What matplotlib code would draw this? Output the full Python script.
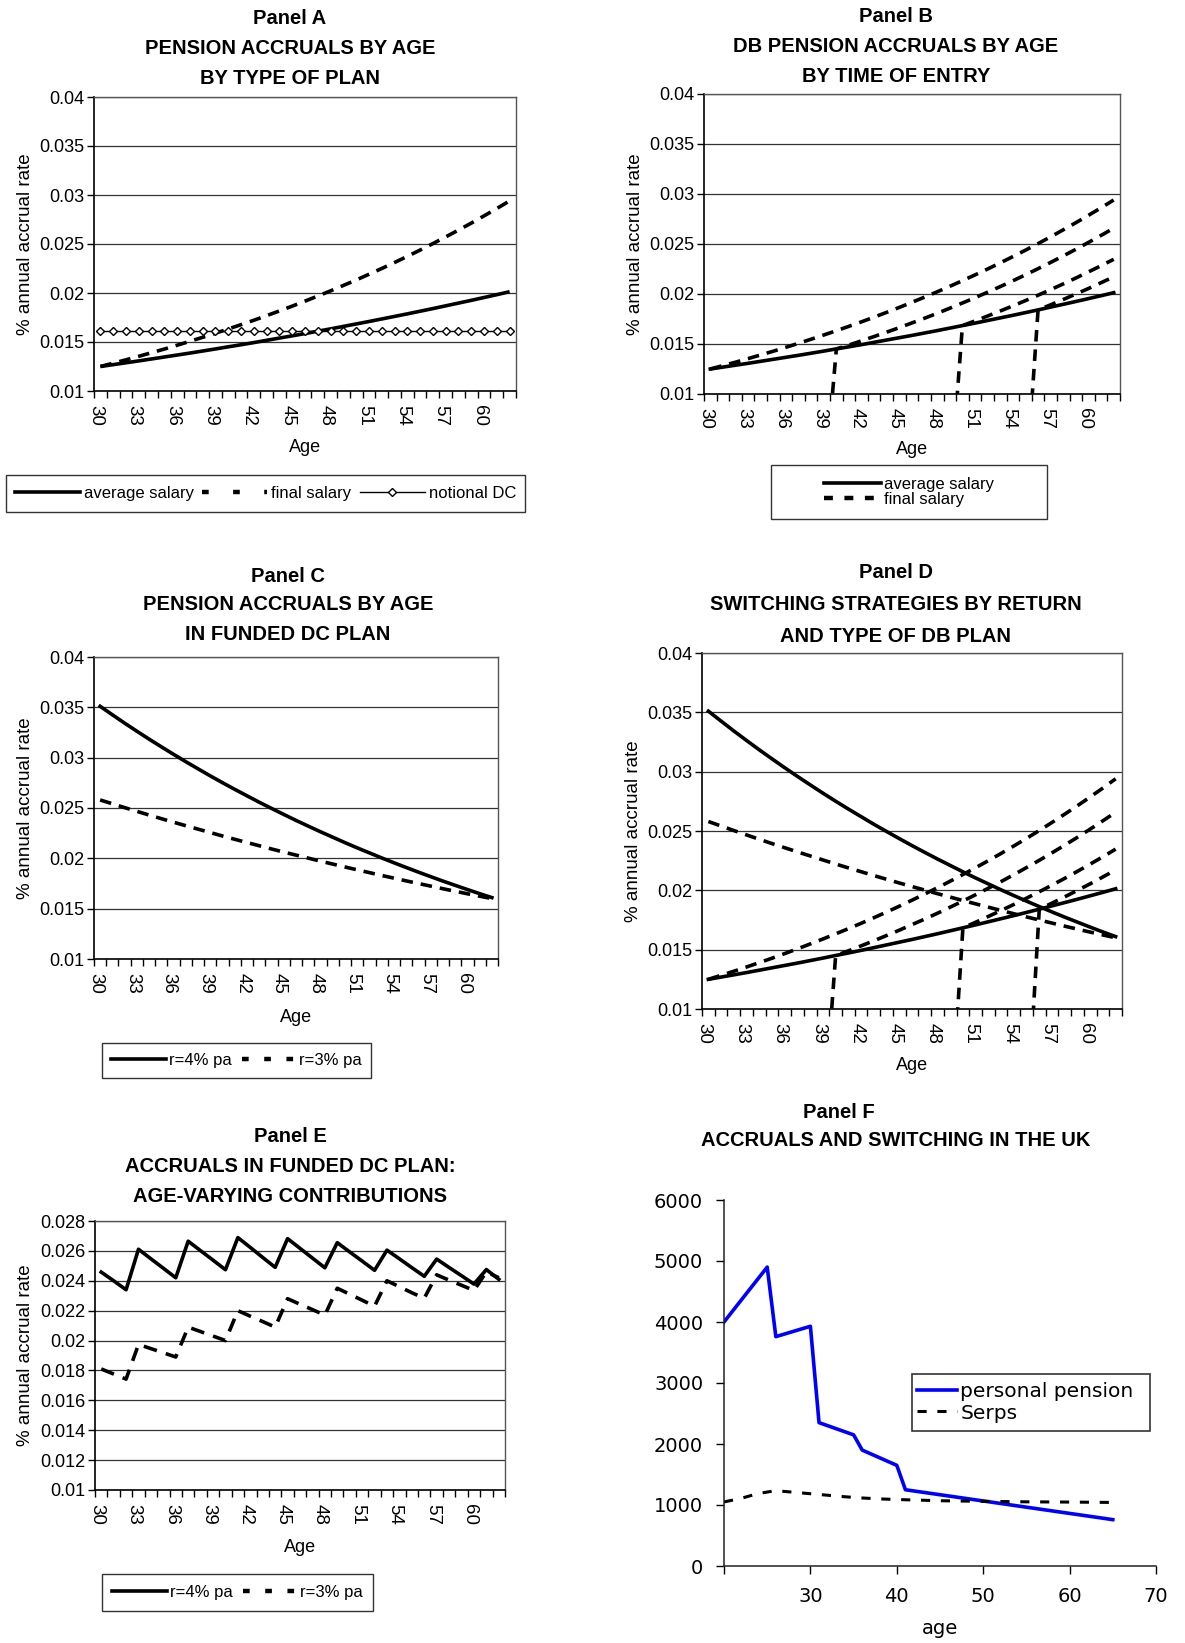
import matplotlib
matplotlib.use("Agg")
import matplotlib.pyplot as plt
from matplotlib import font_manager
from matplotlib.lines import Line2D
from matplotlib.patches import Rectangle

W, H = 1185, 1643
avail = {f.name for f in font_manager.fontManager.ttflist}
SANS = "Liberation Sans" if "Liberation Sans" in avail else "DejaVu Sans"
HAS_NARROW = "Liberation Sans Narrow" in avail
NARROW = "Liberation Sans Narrow" if HAS_NARROW else SANS
LEG_SIZE = 14.5 if HAS_NARROW else 12
plt.rcParams["font.family"] = [SANS, "DejaVu Sans"]

# ---------------- data ----------------
ages = list(range(30, 63))
xtick_ages = [30, 33, 36, 39, 42, 45, 48, 51, 54, 57, 60]
xtick_labels = ["30", "33", "36", "39", "42", "45", "48", "51", "54", "57", "60"]

rate_ticks = [0.01, 0.015, 0.02, 0.025, 0.03, 0.035, 0.04]
rate_tick_labels = ["0.01", "0.015", "0.02", "0.025", "0.03", "0.035", "0.04"]
rate_ticks_e = [0.01, 0.012, 0.014, 0.016, 0.018, 0.02, 0.022, 0.024, 0.026, 0.028]
rate_tick_labels_e = ["0.01", "0.012", "0.014", "0.016", "0.018", "0.02",
                      "0.022", "0.024", "0.026", "0.028"]

avg_salary = [0.01250, 0.01269, 0.01288, 0.01307, 0.01327, 0.01347, 0.01367,
              0.01387, 0.01408, 0.01429, 0.01451, 0.01472, 0.01494, 0.01517,
              0.01540, 0.01563, 0.01586, 0.01610, 0.01634, 0.01659, 0.01684,
              0.01709, 0.01735, 0.01761, 0.01787, 0.01814, 0.01841, 0.01869,
              0.01897, 0.01925, 0.01954, 0.01983, 0.02013]
final_salary = [0.01250, 0.01284, 0.01318, 0.01354, 0.01391, 0.01428, 0.01467,
                0.01507, 0.01548, 0.01590, 0.01633, 0.01677, 0.01722, 0.01769,
                0.01817, 0.01866, 0.01917, 0.01969, 0.02022, 0.02077, 0.02133,
                0.02191, 0.02250, 0.02311, 0.02374, 0.02438, 0.02504, 0.02572,
                0.02642, 0.02713, 0.02787, 0.02862, 0.02940]
notional_dc = [0.0161] * len(ages)

final_entry40 = [0, 0, 0, 0, 0, 0, 0, 0, 0, 0,
                 0.01450, 0.01490, 0.01532, 0.01575, 0.01619, 0.01664, 0.01711,
                 0.01758, 0.01807, 0.01858, 0.01910, 0.01963, 0.02018, 0.02074,
                 0.02132, 0.02192, 0.02253, 0.02316, 0.02381, 0.02447, 0.02516,
                 0.02586, 0.02658]
final_entry50 = [0, 0, 0, 0, 0, 0, 0, 0, 0, 0,
                 0, 0, 0, 0, 0, 0, 0, 0, 0, 0,
                 0.01684, 0.01731, 0.01780, 0.01830, 0.01881, 0.01934, 0.01988,
                 0.02044, 0.02101, 0.02160, 0.02221, 0.02283, 0.02347]
final_entry56 = [0, 0, 0, 0, 0, 0, 0, 0, 0, 0,
                 0, 0, 0, 0, 0, 0, 0, 0, 0, 0,
                 0, 0, 0, 0, 0, 0,
                 0.01841, 0.01892, 0.01945, 0.02000, 0.02055, 0.02113, 0.02172]

dc_r4 = [0.03510, 0.03426, 0.03343, 0.03263, 0.03184, 0.03108, 0.03033,
         0.02960, 0.02889, 0.02819, 0.02751, 0.02685, 0.02621, 0.02557,
         0.02496, 0.02436, 0.02377, 0.02320, 0.02264, 0.02210, 0.02156,
         0.02104, 0.02054, 0.02004, 0.01956, 0.01909, 0.01863, 0.01818,
         0.01774, 0.01732, 0.01690, 0.01649, 0.01610]
dc_r3 = [0.02580, 0.02542, 0.02504, 0.02467, 0.02430, 0.02394, 0.02359,
         0.02324, 0.02290, 0.02256, 0.02222, 0.02189, 0.02157, 0.02125,
         0.02093, 0.02062, 0.02032, 0.02002, 0.01972, 0.01943, 0.01914,
         0.01886, 0.01858, 0.01830, 0.01803, 0.01776, 0.01750, 0.01724,
         0.01698, 0.01673, 0.01648, 0.01624, 0.01600]

agevar_r4 = [0.02458, 0.02400, 0.02340, 0.02611, 0.02547, 0.02484, 0.02420,
             0.02665, 0.02601, 0.02538, 0.02474, 0.02689, 0.02623, 0.02556,
             0.02490, 0.02682, 0.02617, 0.02552, 0.02487, 0.02655, 0.02593,
             0.02532, 0.02470, 0.02605, 0.02547, 0.02488, 0.02430, 0.02545,
             0.02489, 0.02434, 0.02378, 0.02475, 0.02410]
agevar_r3 = [0.01810, 0.01776, 0.01742, 0.01974, 0.01946, 0.01918, 0.01890,
             0.02090, 0.02060, 0.02030, 0.02000, 0.02200, 0.02163, 0.02127,
             0.02090, 0.02280, 0.02243, 0.02207, 0.02170, 0.02350, 0.02310,
             0.02270, 0.02230, 0.02400, 0.02360, 0.02320, 0.02283, 0.02440,
             0.02404, 0.02370, 0.02335, 0.02460, 0.02420]

uk_pp_ages = [20, 25, 26, 30, 31, 35, 36, 40, 41, 65]
uk_personal_pension = [4000, 4900, 3760, 3930, 2350, 2150, 1900, 1650, 1250, 760]
uk_serps_ages = [20, 22, 24, 26, 28, 30, 32, 34, 36, 38, 40, 45, 50, 55, 60, 65]
uk_serps = [1050, 1110, 1190, 1235, 1210, 1185, 1160, 1135, 1115, 1100, 1090,
            1070, 1060, 1052, 1048, 1042]
uk_xticks = [20, 30, 40, 50, 60, 70]
uk_xtick_labels = ["", "30", "40", "50", "60", "70"]
uk_yticks = [0, 1000, 2000, 3000, 4000, 5000, 6000]
uk_ytick_labels = ["0", "1000", "2000", "3000", "4000", "5000", "6000"]

# ---------------- layout helpers ----------------
fig = plt.figure(figsize=(W / 100, H / 100), dpi=100)


def fx(x):
    return x / W


def fy(y):
    return 1 - y / H


def add_axes(l, t, r, b):
    return fig.add_axes([fx(l), fy(b), (r - l) / W, (b - t) / H])


def titles(lines, xs, ys, size=14.5):
    for txt, x, y in zip(lines, xs, ys):
        fig.text(fx(x), fy(y), txt, ha="center", va="center",
                 fontsize=size, fontweight="bold")


def setup_cat(ax, yt, ytl, l, t, r, b, xlab_y, ylab_x):
    ax.set_xlim(ages[0] - 0.5, ages[-1] + 0.5)
    ax.set_ylim(yt[0], yt[-1])
    ax.set_yticks(yt)
    ax.set_yticklabels(ytl)
    ax.set_xticks([a - 0.35 for a in xtick_ages])
    ax.set_xticklabels(xtick_labels, rotation=-90)
    ax.set_xticks([a - 0.5 for a in ages] + [ages[-1] + 0.5], minor=True)
    ax.tick_params(axis="x", which="major", length=0, pad=10, labelsize=13.5)
    ax.tick_params(axis="x", which="minor", length=5, width=1, direction="out")
    ax.tick_params(axis="y", length=5, width=1, direction="out", labelsize=13,
                   pad=2)
    ax.grid(axis="y", color="#333333", lw=0.9)
    ax.set_axisbelow(True)
    for s in ["left", "bottom"]:
        ax.spines[s].set_linewidth(1.2)
        ax.spines[s].set_color("black")
    for s in ["top", "right"]:
        ax.spines[s].set_linewidth(1.0)
        ax.spines[s].set_color("#555555")
    fig.text(fx((l + r) / 2), fy(xlab_y), "Age", ha="center", va="center",
             fontsize=14 if HAS_NARROW else 13, family=[NARROW, "DejaVu Sans"])
    fig.text(fx(ylab_x), fy((t + b) / 2), "% annual accrual rate", ha="center",
             va="center", rotation=90, fontsize=13.5)


def boxed_legend(ax, handles, labels, box, ncol, **kw):
    l, t, r, b = box
    fig.add_artist(Rectangle((fx(l), fy(b)), (r - l) / W, (b - t) / H,
                             transform=fig.transFigure, fill=False,
                             ec="#333333", lw=1.0))
    leg = ax.legend(handles, labels, loc="center",
                    bbox_to_anchor=(fx((l + r) / 2), fy((t + b) / 2)),
                    bbox_transform=fig.transFigure, ncol=ncol, frameon=False,
                    borderpad=0, borderaxespad=0,
                    prop={"family": [NARROW, "DejaVu Sans"], "size": LEG_SIZE},
                    **kw)
    return leg


LW = 2.6
DASH = (3.2, 2.2)

# ---------------- Panel A ----------------
box = (94, 97, 516, 391)
ax = add_axes(*box)
ax.plot(ages, avg_salary, color="black", lw=LW, solid_capstyle="butt")
ax.plot(ages, final_salary, color="black", lw=LW, dashes=DASH)
ax.plot(ages, notional_dc, color="black", lw=1.0, marker="D", markersize=4.5,
        mfc="white", mec="black", mew=1.0)
setup_cat(ax, rate_ticks, rate_tick_labels, *box, xlab_y=447, ylab_x=26)
titles(["Panel A", "PENSION ACCRUALS BY AGE", "BY TYPE OF PLAN"],
       [290, 290, 290], [18, 49, 79])
hA = [Line2D([], [], color="black", lw=LW),
      Line2D([], [], color="black", lw=3.2, dashes=(1.5, 5.5)),
      Line2D([], [], color="black", lw=1.0, marker="D", markersize=4,
             mfc="white", mec="black")]
boxed_legend(ax, hA, ["average salary", "final salary", "notional DC"],
             (6, 475, 525, 512), 3, handlelength=3.9,
             handletextpad=0.25, columnspacing=0.5, numpoints=1)

# ---------------- Panel B ----------------
box = (704, 94, 1120, 394)
ax = add_axes(*box)
ax.plot(ages, avg_salary, color="black", lw=LW)
for series in [final_salary, final_entry40, final_entry50, final_entry56]:
    ax.plot(ages, series, color="black", lw=LW, dashes=DASH)
setup_cat(ax, rate_ticks, rate_tick_labels, *box, xlab_y=450, ylab_x=636)
titles(["Panel B", "DB PENSION ACCRUALS BY AGE", "BY TIME OF ENTRY"],
       [896, 896, 896], [17, 47, 77])
hB = [Line2D([], [], color="black", lw=LW),
      Line2D([], [], color="black", lw=3.2, dashes=(2.0, 2.6))]
boxed_legend(ax, hB, ["average salary", "final salary"],
             (771, 465, 1047, 519), 1, handlelength=3.4,
             handletextpad=0.15, labelspacing=0.02)

# ---------------- Panel C ----------------
box = (94, 657, 498, 959)
ax = add_axes(*box)
ax.plot(ages, dc_r4, color="black", lw=LW)
ax.plot(ages, dc_r3, color="black", lw=LW, dashes=DASH)
setup_cat(ax, rate_ticks, rate_tick_labels, *box, xlab_y=1017, ylab_x=26)
titles(["Panel C", "PENSION ACCRUALS BY AGE", "IN FUNDED DC PLAN"],
       [288, 288, 288], [576, 605, 635])
hC = [Line2D([], [], color="black", lw=LW),
      Line2D([], [], color="black", lw=3.2, dashes=(1.5, 3.5))]
boxed_legend(ax, hC, ["r=4% pa", "r=3% pa"], (102, 1043, 371, 1078), 2,
             handlelength=3.3, handletextpad=0.15, columnspacing=0.6)

# ---------------- Panel D ----------------
box = (702, 653, 1122, 1009)
ax = add_axes(*box)
ax.plot(ages, dc_r4, color="black", lw=LW)
ax.plot(ages, avg_salary, color="black", lw=LW)
ax.plot(ages, dc_r3, color="black", lw=LW, dashes=DASH)
for series in [final_salary, final_entry40, final_entry50, final_entry56]:
    ax.plot(ages, series, color="black", lw=LW, dashes=DASH)
setup_cat(ax, rate_ticks, rate_tick_labels, *box, xlab_y=1065, ylab_x=634)
titles(["Panel D", "SWITCHING STRATEGIES BY RETURN", "AND TYPE OF DB PLAN"],
       [896, 896, 896], [573, 604, 637])

# ---------------- Panel E ----------------
box = (95, 1221, 505, 1490)
ax = add_axes(*box)
ax.plot(ages, agevar_r4, color="black", lw=LW)
ax.plot(ages, agevar_r3, color="black", lw=LW, dashes=(3.8, 2.6))
setup_cat(ax, rate_ticks_e, rate_tick_labels_e, *box, xlab_y=1547, ylab_x=26)
titles(["Panel E", "ACCRUALS IN FUNDED DC PLAN:", "AGE-VARYING CONTRIBUTIONS"],
       [290, 290, 290], [1136, 1167, 1197])
hE = [Line2D([], [], color="black", lw=LW),
      Line2D([], [], color="black", lw=3.2, dashes=(1.5, 3.5))]
boxed_legend(ax, hE, ["r=4% pa", "r=3% pa"], (102, 1574, 373, 1611), 2,
             handlelength=3.3, handletextpad=0.15, columnspacing=0.6)

# ---------------- Panel F ----------------
box = (724, 1200, 1156, 1566)
ax = add_axes(*box)
ax.plot(uk_pp_ages, uk_personal_pension, color="#0000FF", lw=2.6)
ax.plot(uk_serps_ages, uk_serps, color="black", lw=2.2, dashes=(3, 3.5))
ax.set_xlim(20, 70)
ax.set_ylim(0, 6000)
ax.set_xticks(uk_xticks)
ax.set_xticklabels(uk_xtick_labels, fontfamily="DejaVu Sans")
ax.set_yticks(uk_yticks)
ax.set_yticklabels(uk_ytick_labels, fontfamily="DejaVu Sans")
ax.tick_params(axis="both", length=6, width=1, direction="out", labelsize=14)
ax.tick_params(axis="x", pad=9)
ax.tick_params(axis="y", pad=9)
for s in ["top", "right"]:
    ax.spines[s].set_visible(False)
for s in ["left", "bottom"]:
    ax.spines[s].set_color("#222222")
    ax.spines[s].set_linewidth(1.1)
fig.text(fx(940), fy(1628), "age", ha="center", va="center", fontsize=14,
         family="DejaVu Sans")
fig.text(fx(839), fy(1112), "Panel F", ha="center", va="center",
         fontsize=14.5, fontweight="bold")
fig.text(fx(896), fy(1140), "ACCRUALS AND SWITCHING IN THE UK", ha="center",
         va="center", fontsize=14.5, fontweight="bold")
l, t, r, b = 912, 1374, 1150, 1431
fig.add_artist(Rectangle((fx(l), fy(b)), (r - l) / W, (b - t) / H,
                         transform=fig.transFigure, fill=False, ec="#333333",
                         lw=1.2))
hF = [Line2D([], [], color="#0000FF", lw=2.6),
      Line2D([], [], color="black", lw=2.2, dashes=(3, 3.5))]
ax.legend(hF, ["personal pension", "Serps"], loc="center left",
          bbox_to_anchor=(fx(917), fy((t + b) / 2)),
          bbox_transform=fig.transFigure, frameon=False, borderpad=0,
          borderaxespad=0, handlelength=2.0,
          handletextpad=0.15, labelspacing=0.1,
          prop={"family": "DejaVu Sans", "size": 14.5})

fig.savefig("out.png", dpi=100)
